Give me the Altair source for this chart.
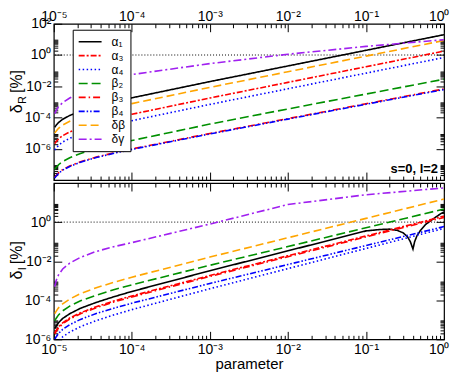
import altair as alt
import pandas as pd

FONT = "Liberation Sans"

# ---- parameter grid (x) ----
P_GRID = [1.03e-5, 1.07e-5, 1.15e-5, 1.3e-5, 1.6e-5, 2.2e-5, 3.5e-5, 6e-5,
          1e-4, 1e-3, 1e-2, 1e-1, 1.0]
P_DIP = [0.15, 0.2, 0.25, 0.3, 0.34, 0.37, 0.40, 0.42, 0.45, 0.5, 0.58, 0.68, 0.78, 0.9, 1.0]

SERIES = ["α₁", "α₃", "α₄", "β₂", "β₃", "β₄", "δβ", "δγ"]
COLORS = ["#000000", "#ff0000", "#0000ff", "#009000", "#ff0000", "#0000ff", "#ffa500", "#a020f0"]
DASHES = [[1, 0], [6, 2, 2, 2], [1.5, 2.5], [9, 4], [7, 3, 1.5, 3],
          [6, 2, 1.5, 2, 1.5, 2], [8, 4], [8, 3, 2, 3]]

# ---- top panel: log10(delta_R [%]) ----
R_ALPHA1 = [-4.62, -4.50, -4.32, -4.11, -3.87, -3.59, -3.29, -2.99, -2.74, -1.70, -0.70, 0.30, 1.30]
R_ALPHA3 = [-5.67, -5.55, -5.37, -5.16, -4.92, -4.64, -4.34, -4.04, -3.79, -2.75, -1.75, -0.75, 0.25]
R_ALPHA4 = [-6.08, -5.96, -5.78, -5.57, -5.33, -5.05, -4.75, -4.45, -4.20, -3.16, -2.16, -1.16, -0.16]
R_BETA2 = [-7.32, -7.20, -7.02, -6.81, -6.57, -6.30, -6.00, -5.72, -5.47, -4.42, -3.45, -2.50, -1.55]
R_BETA3 = [-7.84, -7.72, -7.54, -7.33, -7.10, -6.83, -6.53, -6.25, -6.01, -5.02, -4.07, -3.12, -2.17]
R_BETA4 = [-7.88, -7.75, -7.57, -7.36, -7.13, -6.86, -6.56, -6.28, -6.04, -5.05, -4.10, -3.15, -2.21]
R_DBETA = [-4.99, -4.87, -4.69, -4.48, -4.24, -3.96, -3.66, -3.36, -3.11, -2.07, -1.07, -0.07, 0.93]
R_DGAMMA = [-3.75, -3.55, -3.30, -3.05, -2.75, -2.40, -2.00, -1.60, -1.25, -0.55, 0.05, 0.55, 0.98]

# ---- bottom panel: log10(delta_I [%]) ----
I_ALPHA1_P = P_GRID[:-1] + P_DIP
I_ALPHA1 = [-5.45, -5.33, -5.15, -4.93, -4.69, -4.41, -4.11, -3.81, -3.55, -2.49, -1.47, -0.45,
            -0.38, -0.36, -0.42, -0.55, -0.75, -1.00, -1.38, -1.00, -0.70, -0.42, -0.12, 0.08,
            0.25, 0.42, 0.52]
I_ALPHA3 = [-5.67, -5.55, -5.37, -5.16, -4.91, -4.64, -4.33, -4.03, -3.78, -2.73, -1.72, -0.71, 0.30]
I_ALPHA4 = [-6.39, -6.27, -6.09, -5.87, -5.63, -5.35, -5.04, -4.74, -4.48, -3.41, -2.38, -1.35, -0.32]
I_BETA2 = [-5.05, -4.93, -4.75, -4.54, -4.30, -4.03, -3.74, -3.45, -3.21, -2.21, -1.25, -0.29, 0.67]
I_BETA3 = [-5.72, -5.60, -5.42, -5.21, -4.96, -4.69, -4.38, -4.08, -3.83, -2.78, -1.77, -0.76, 0.24]
I_BETA4 = [-6.00, -5.88, -5.70, -5.49, -5.25, -4.98, -4.68, -4.40, -4.15, -3.14, -2.17, -1.20, -0.23]
I_DBETA = [-4.69, -4.57, -4.39, -4.18, -3.94, -3.66, -3.36, -3.07, -2.82, -1.79, -0.80, 0.19, 1.18]
I_DGAMMA = [-3.30, -3.00, -2.70, -2.40, -2.10, -1.80, -1.50, -1.25, -1.05, -0.10, 0.90, 1.40, 1.75]

# ---- axis tick positions ----
X_MAJ = [1e-5, 1e-4, 1e-3, 1e-2, 1e-1, 1.0]
X_MIN = [m * 10.0 ** k for k in range(-5, 0) for m in range(2, 10)]
Y_TOP_DOM = [1e-8, 1e2]
Y_TOP_MAJ = [1e-6, 1e-4, 1e-2, 1.0, 1e2]
Y_TOP_MIN = [m * 10.0 ** k for k in (-8, -6, -4, -2, 0) for m in range(2, 10)]
Y_BOT_DOM = [1e-6, 1e2]
Y_BOT_MAJ = [1e-6, 1e-4, 1e-2, 1.0]
Y_BOT_MIN = [m * 10.0 ** k for k in (-6, -4, -2, 0) for m in range(2, 10)]

W, H = 392, 157


def build_df(series_lists):
    rows = []
    for name, (ps, vals) in zip(SERIES, series_lists):
        for p, v in zip(ps, vals):
            rows.append({"p": p, "v": 10.0 ** v, "series": name})
    return pd.DataFrame(rows)


df_top = build_df([(P_GRID, R_ALPHA1), (P_GRID, R_ALPHA3), (P_GRID, R_ALPHA4), (P_GRID, R_BETA2),
                   (P_GRID, R_BETA3), (P_GRID, R_BETA4), (P_GRID, R_DBETA), (P_GRID, R_DGAMMA)])
df_bot = build_df([(I_ALPHA1_P, I_ALPHA1), (P_GRID, I_ALPHA3), (P_GRID, I_ALPHA4), (P_GRID, I_BETA2),
                   (P_GRID, I_BETA3), (P_GRID, I_BETA4), (P_GRID, I_DBETA), (P_GRID, I_DGAMMA)])


def sup_expr():
    e = "toString(round(log(datum.value)/LN10))"
    for a, b in [("-", "⁻"), ("0", "⁰"), ("1", "¹"), ("2", "²"), ("3", "³"), ("4", "⁴"),
                 ("5", "⁵"), ("6", "⁶"), ("7", "⁷"), ("8", "⁸"), ("9", "⁹")]:
        e = "replace(" + e + ", '" + a + "', '" + b + "')"
    return "'10' + " + e


SUP = sup_expr()


def mk_axis(orient, values, size, labels, pad=0, title=None, last_right=False):
    kw = dict(orient=orient, values=values, tickSize=alt.ExprRef(expr=str(-size)),
              ticks=True, tickColor="black", tickWidth=1, domain=False, grid=False,
              labels=labels, title=title)
    if labels:
        kw.update(labelExpr=SUP, labelFont=FONT, labelFontSize=14, labelColor="black",
                  labelPadding=pad, labelOverlap=False, labelFlush=False, labelBound=False)
        if last_right:
            kw.update(labelAlign={"condition": {"test": "datum.value > 0.5", "value": "right"},
                                  "value": "center"},
                      labelOffset={"condition": {"test": "datum.value > 0.5", "value": 5},
                                   "value": 0})
    if title:
        kw.update(titleFont=FONT, titleFontSize=15, titleFontWeight="normal",
                  titleColor="black", titlePadding=0)
    return alt.Axis(**kw)


xs = alt.Scale(type="log", domain=[1e-5, 1.0], nice=False)

LEGEND = alt.Legend(title=None, orient="none", legendX=19, legendY=6, symbolType="stroke",
                    symbolSize=529, symbolStrokeWidth=1.6, labelFont=FONT, labelFontSize=12,
                    labelColor="black", labelOffset=9, padding=5, strokeColor="black",
                    fillColor="white", clipHeight=14, rowPadding=0, cornerRadius=0)


def ytitle(sub, y0, sub_w):
    base = alt.Chart(pd.DataFrame({"k": [0]}))
    common = dict(angle=270, align="left", baseline="alphabetic", font=FONT, color="black")
    d = base.mark_text(text="δ", fontSize=16, **common).encode(x=alt.value(-32), y=alt.value(y0))
    s = base.mark_text(text=sub, fontSize=11, **common).encode(x=alt.value(-28), y=alt.value(y0 - 9.5))
    pc = base.mark_text(text="[%]", fontSize=16, **common).encode(
        x=alt.value(-32), y=alt.value(y0 - 9.5 - sub_w - 3))
    return [d, s, pc]


def panel(df, ydom, ymaj, ymin, xorient, legend, extra):
    ys = alt.Scale(type="log", domain=ydom, nice=False)
    other = "bottom" if xorient == "top" else "top"
    xtitle = "parameter" if xorient == "bottom" else None
    xpad = 8 if xorient == "top" else 11
    rule = alt.Chart(pd.DataFrame({"v": [1.0]})).mark_rule(
        color="black", strokeDash=[1, 2], strokeWidth=1, clip=True).encode(
        y=alt.Y("v:Q", scale=ys, axis=None))
    lines = alt.Chart(df).mark_line(clip=True, strokeWidth=1.6).encode(
        x=alt.X("p:Q", scale=xs,
                axis=mk_axis(xorient, X_MAJ, 8, True, pad=xpad, title=xtitle, last_right=True)),
        y=alt.Y("v:Q", scale=ys, axis=mk_axis("left", ymaj, 8, True, pad=11)),
        color=alt.Color("series:N", scale=alt.Scale(domain=SERIES, range=COLORS), legend=legend),
        strokeDash=alt.StrokeDash("series:N", scale=alt.Scale(domain=SERIES, range=DASHES),
                                  legend=legend),
    )
    corners = pd.DataFrame({"p": [1e-5, 1.0], "v": ydom})

    def ghost(xa, ya):
        return alt.Chart(corners).mark_point(opacity=0, size=0, strokeWidth=0, clip=True).encode(
            x=alt.X("p:Q", scale=xs, axis=xa), y=alt.Y("v:Q", scale=ys, axis=ya))

    g1 = ghost(mk_axis(xorient, X_MIN, 4, False), mk_axis("left", ymin, 4, False))
    g2 = ghost(mk_axis(other, X_MAJ, 8, False), mk_axis("right", ymaj, 8, False))
    g3 = ghost(mk_axis(other, X_MIN, 4, False), mk_axis("right", ymin, 4, False))
    return alt.layer(rule, lines, g1, g2, g3, *extra).properties(width=W, height=H).resolve_axis(
        x="independent", y="independent")


label_sl = alt.Chart(pd.DataFrame({"k": [0]})).mark_text(
    text="s=0, l=2", align="right", baseline="alphabetic", font=FONT, fontSize=13,
    fontWeight="bold", color="black").encode(x=alt.value(386), y=alt.value(150))

top = panel(df_top, Y_TOP_DOM, Y_TOP_MAJ, Y_TOP_MIN, "top", LEGEND,
            [label_sl] + ytitle("R", 90, 8))
bot = panel(df_bot, Y_BOT_DOM, Y_BOT_MAJ, Y_BOT_MIN, "bottom", None,
            ytitle("I", 97, 3))

chart = alt.vconcat(top, bot, spacing=-1).resolve_scale(
    x="independent", y="independent", color="independent", strokeDash="independent"
).properties(padding={"left": 0, "top": 0, "right": 0, "bottom": 0}).configure_view(
    stroke="black", strokeWidth=1.2)

chart.save("out.html", embed_options={"renderer": "svg", "actions": False})
